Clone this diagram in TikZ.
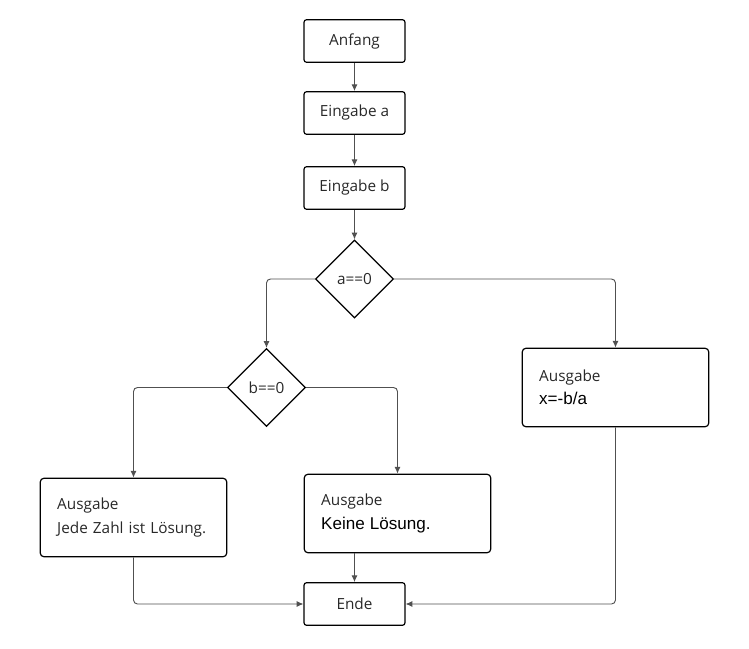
\documentclass[tikz,border=0pt]{standalone}
\usepackage{fontspec}
\setmainfont{Open Sans}
\newfontfamily\arialfont{Liberation Sans}
\usetikzlibrary{positioning,calc}
\usetikzlibrary{arrows.meta,shapes.geometric}
\definecolor{LineGray}{RGB}{80,80,80}
\definecolor{TextGray}{RGB}{40,40,40}
\tikzset{
  stepbox/.style={draw=black,line width=0.9pt,rounded corners=2pt,minimum width=75.75pt,
    minimum height=32pt,inner sep=0pt,text=TextGray,font=\fontsize{11.5}{13.5}\selectfont},
  cond/.style={diamond,draw=black,line width=0.9pt,minimum width=58.5pt,minimum height=58.5pt,
    inner sep=0pt,text=TextGray,font=\fontsize{11.5}{13.5}\selectfont},
  outbox/.style={draw=black,line width=0.9pt,rounded corners=3pt,minimum width=140pt,
    minimum height=59pt,inner xsep=12.75pt,text width=114.5pt,align=left,
    text=TextGray,font=\fontsize{11.5}{13.5}\selectfont},
  flow/.style={draw=LineGray,line width=0.7pt,rounded corners=3pt,
    -{Latex[length=5pt,width=4.5pt]}},
}
\newcommand{\plain}[1]{{\arialfont\fontsize{12.8}{14}\selectfont\color{black}#1}}

\begin{document}
\begin{tikzpicture}[x=0.75pt,y=-0.75pt]
\useasboundingbox (0,0) rectangle (749,649);
\node[stepbox] (anfang) at (354.5,41) {Anfang};
\node[stepbox] (ina) at (354.5,113) {Eingabe a};
\node[stepbox] (inb) at (354.5,188) {Eingabe b};
\node[cond] (qa) at (354.5,279) {a==0};
\node[cond] (qb) at (266.5,387.5) {b==0};
\node[outbox] (xout) at (615.5,387.5) {Ausgabe\\[4pt]\plain{x=-b/a}};
\node[outbox] (allout) at (133.5,517.5) {Ausgabe\\[4pt]Jede Zahl ist Lösung.};
\node[outbox] (noneout) at (397.5,513.5) {Ausgabe\\[4pt]\plain{Keine Lösung.}};
\node[stepbox] (ende) at (354.5,604) {Ende};
\draw[flow] (anfang) -- (ina);
\draw[flow] (ina) -- (inb);
\draw[flow] (inb) -- (qa);
\draw[flow] (qa.west) -| (qb.north);
\draw[flow] (qa.east) -| (xout.north);
\draw[flow] (qb.west) -| (allout.north);
\draw[flow] (qb.east) -| (noneout.north);
\draw[flow] (ende.north |- noneout.south) -- (ende.north);
\draw[flow] (allout.south) |- (ende.west);
\draw[flow] (xout.south) |- (ende.east);
\end{tikzpicture}
\end{document}
